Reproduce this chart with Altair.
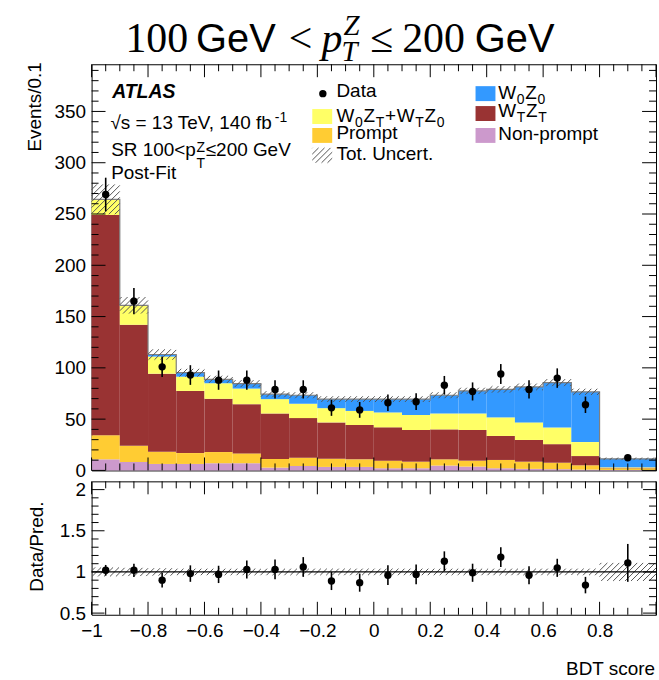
import math
import altair as alt
import numpy as np
import pandas as pd

# ---------------- data ----------------
bin_lo = [-1.0, -0.9, -0.8, -0.7, -0.6, -0.5, -0.4, -0.3, -0.2, -0.1,
          0.0, 0.1, 0.2, 0.3, 0.4, 0.5, 0.6, 0.7, 0.8]
bin_hi = [-0.9, -0.8, -0.7, -0.6, -0.5, -0.4, -0.3, -0.2, -0.1, 0.0,
          0.1, 0.2, 0.3, 0.4, 0.5, 0.6, 0.7, 0.8, 1.0]
bin_mid = [-0.95, -0.85, -0.75, -0.65, -0.55, -0.45, -0.35, -0.25, -0.15, -0.05,
           0.05, 0.15, 0.25, 0.35, 0.45, 0.55, 0.65, 0.75, 0.9]

nonprompt = [10.8, 8.2, 6.3, 6.3, 7.0, 7.0, 2.7, 4.3, 3.4, 3.4, 2.1, 2.1, 4.7, 3.7, 2.1, 1.5, 1.2, 0.8, 0.5]
prompt = [23.5, 15.8, 11.9, 10.6, 10.9, 9.6, 8.4, 8.1, 8.0, 7.4, 7.4, 6.4, 6.1, 5.8, 8.1, 7.0, 6.3, 4.2, 1.6]
wtzt = [214.7, 118.0, 76.1, 60.6, 51.9, 48.0, 44.4, 38.6, 35.4, 33.5, 32.5, 30.9, 29.2, 29.9, 23.4, 21.2, 18.1, 9.0, 0.4]
mixed = [15.0, 18.5, 16.7, 13.9, 15.2, 15.2, 14.0, 14.0, 13.9, 13.7, 14.5, 14.6, 15.5, 16.1, 18.1, 17.1, 16.2, 13.6, 0.5]
w0z0 = [0.3, 0.5, 2.0, 3.9, 3.8, 4.8, 4.8, 8.3, 8.8, 11.5, 13.0, 15.5, 17.8, 22.0, 27.3, 34.6, 43.8, 49.0, 8.3]

data_vals = [269, 165, 101, 93, 88, 88, 79, 79, 61, 59, 66, 67, 83, 77, 94, 79, 90, 64, 12.4]
data_err = [16.4, 12.8, 10.0, 9.6, 9.4, 9.4, 8.9, 8.9, 7.8, 7.7, 8.1, 8.2, 9.1, 8.8, 9.7, 8.9, 9.5, 8.0, 2.5]
unc_rel = [0.055, 0.05, 0.045, 0.04, 0.04, 0.04, 0.04, 0.04, 0.04, 0.04,
           0.04, 0.04, 0.04, 0.04, 0.04, 0.04, 0.04, 0.04, 0.11]

ratio_vals = [1.02, 1.02, 0.90, 0.98, 0.97, 1.03, 1.03, 1.06, 0.89, 0.87,
              0.96, 0.97, 1.13, 0.99, 1.18, 0.96, 1.05, 0.84, 1.11]
ratio_err = [0.065, 0.08, 0.09, 0.10, 0.105, 0.11, 0.12, 0.12, 0.11, 0.11,
             0.12, 0.12, 0.12, 0.11, 0.12, 0.11, 0.11, 0.10, 0.23]

comp_names = ["Non-prompt", "Prompt", "WTZT", "Mixed", "W0Z0"]
comp_vals = [nonprompt, prompt, wtzt, mixed, w0z0]
comp_colors = ["#cc99cc", "#ffcc33", "#993333", "#ffff66", "#3399ff"]

x_major = [-1.0, -0.8, -0.6, -0.4, -0.2, 0.0, 0.2, 0.4, 0.6, 0.8, 1.0]
x_labels = [-1.0, -0.8, -0.6, -0.4, -0.2, 0.0, 0.2, 0.4, 0.6, 0.8]
y_major_top = [0, 50, 100, 150, 200, 250, 300, 350]
y_major_rat = [0.5, 1.0, 1.5, 2.0]

# ---------------- layout constants ----------------
W = 567
H_TOP = 408
H_RAT = 134
GAP = 11
LEFT = 91
TOP = 62
Y_TOP_MAX = 396.0
R_MIN, R_MAX = 0.48, 2.1

SANS = "Liberation Sans"
SERIF = "Liberation Serif"
FS = 19

XS = alt.Scale(domain=[-1, 1], nice=False, zero=False)
YS_TOP = alt.Scale(domain=[0, Y_TOP_MAX], nice=False, zero=False)
YS_RAT = alt.Scale(domain=[R_MIN, R_MAX], nice=False, zero=False)

YAX_TOP = alt.Axis(values=y_major_top, format="d", ticks=False, tickSize=0, domain=False,
                   grid=False, labelFont=SANS, labelFontSize=FS, labelColor="black",
                   labelPadding=6)
YAX_RAT = alt.Axis(values=y_major_rat, format="~g", ticks=False, tickSize=0, domain=False,
                   grid=False, labelFont=SANS, labelFontSize=FS, labelColor="black",
                   labelPadding=6)
XAX_RAT = alt.Axis(values=x_labels, format="~g", ticks=False, tickSize=0, domain=False,
                   grid=False, labelFont=SANS, labelFontSize=FS, labelColor="black",
                   labelPadding=7, labelFlush=False)


def xt(f):
    return alt.X(f"{f}:Q", scale=XS, axis=None)


def xr(f):
    return alt.X(f"{f}:Q", scale=XS, axis=XAX_RAT, title=None)


def yt(f):
    return alt.Y(f"{f}:Q", scale=YS_TOP, axis=YAX_TOP, title=None)


def yr(f):
    return alt.Y(f"{f}:Q", scale=YS_RAT, axis=YAX_RAT, title=None)


# ---------------- hatch helper ----------------
def hatch_px(X0, X1, Yt, Yb, spacing=6.0):
    """'/' lines inside pixel rect (y down). returns list of (xa, ya, xb, yb)."""
    segs = []
    cmin, cmax = X0 + Yt, X1 + Yb
    k0, k1 = math.ceil(cmin / spacing), math.floor(cmax / spacing)
    for k in range(k0, k1 + 1):
        c = k * spacing
        a = max(X0, c - Yb)
        b = min(X1, c - Yt)
        if b - a > 0.3:
            segs.append((a, c - a, b, c - b))
    return segs


def hatch_data(rects, ymin, ymax, H):
    kx = W / 2.0
    ky = H / (ymax - ymin)
    rows = []
    for (x0, x1, y0, y1) in rects:
        X0, X1 = (x0 + 1) * kx, (x1 + 1) * kx
        Yt, Yb = H - (y1 - ymin) * ky, H - (y0 - ymin) * ky
        for (xa, ya, xb, yb) in hatch_px(X0, X1, Yt, Yb):
            rows.append({"x": xa / kx - 1, "x2": xb / kx - 1,
                         "y": ymin + (H - ya) / ky, "y2": ymin + (H - yb) / ky})
    return pd.DataFrame(rows)


# ---------------- frames ----------------
rows = []
totals = []
for i in range(len(bin_lo)):
    cum = 0.0
    for name, vals in zip(comp_names, comp_vals):
        rows.append({"lo": bin_lo[i], "hi": bin_hi[i], "y0": cum, "y1": cum + vals[i], "comp": name})
        cum += vals[i]
    totals.append(cum)
stack_df = pd.DataFrame(rows)

outline_df = pd.DataFrame({"x": bin_lo + [1.0], "y": totals + [totals[-1]]})

band_top = hatch_data([(bin_lo[i], bin_hi[i], totals[i] * (1 - unc_rel[i]), totals[i] * (1 + unc_rel[i]))
                       for i in range(len(bin_lo))], 0.0, Y_TOP_MAX, H_TOP)
band_rat = hatch_data([(bin_lo[i], bin_hi[i], 1 - unc_rel[i], 1 + unc_rel[i])
                       for i in range(len(bin_lo))], R_MIN, R_MAX, H_RAT)

data_df = pd.DataFrame({"x": bin_mid, "y": data_vals,
                        "lo": [v - e for v, e in zip(data_vals, data_err)],
                        "hi": [v + e for v, e in zip(data_vals, data_err)]})
rat_df = pd.DataFrame({"x": bin_mid, "y": ratio_vals,
                       "lo": [v - e for v, e in zip(ratio_vals, ratio_err)],
                       "hi": [v + e for v, e in zip(ratio_vals, ratio_err)]})

xt_all = [round(v, 3) for v in np.arange(-1.0, 1.0001, 0.05)]
x_minor = [v for v in xt_all if all(abs(v - m) > 1e-6 for m in x_major)]
y_minor_top = [v for v in range(10, 396, 10) if v % 50 != 0]
y_minor_rat = [round(v, 2) for v in np.arange(0.6, 2.05, 0.1) if all(abs(v - m) > 1e-6 for m in y_major_rat)]


def vticks(vals, L, H, xenc):
    df = pd.DataFrame({"v": vals})
    base = alt.Chart(df).mark_rule(color="black", strokeWidth=1)
    return [base.encode(x=xenc("v"), y=alt.value(H), y2=alt.value(H - L)),
            base.encode(x=xenc("v"), y=alt.value(0), y2=alt.value(L))]


def hticks(vals, L, yenc):
    df = pd.DataFrame({"v": vals})
    base = alt.Chart(df).mark_rule(color="black", strokeWidth=1)
    return [base.encode(y=yenc("v"), x=alt.value(0), x2=alt.value(L)),
            base.encode(y=yenc("v"), x=alt.value(W), x2=alt.value(W - L))]


# ---------------- text helpers ----------------
ARIAL = {' ': 278, '0': 556, '1': 556, '2': 556, '3': 556, '4': 556, '5': 556, '6': 556, '7': 556,
         '8': 556, '9': 556, '.': 278, ',': 278, '-': 333, '+': 584, '<': 584, '=': 584, '≤': 549,
         '/': 278, '√': 549, 'A': 667, 'B': 667, 'D': 722, 'E': 667, 'F': 611, 'G': 778, 'L': 556,
         'N': 722, 'P': 667, 'R': 722, 'S': 667, 'T': 611, 'U': 722, 'V': 667, 'W': 944, 'Z': 611,
         'a': 556, 'b': 556, 'c': 500, 'd': 556, 'e': 556, 'f': 278, 'i': 222, 'm': 833, 'n': 556,
         'o': 556, 'p': 556, 'r': 333, 's': 500, 't': 278}


def tw(s, size):
    return sum(ARIAL.get(ch, 556) for ch in s) * size / 1000.0


GAPX = 0.7


def rich(x, y, parts, size=FS, small=14, sub=5, sup=-7):
    out = []
    cx = x
    for text, kind in parts:
        if kind == "n":
            out.append((cx, y, text, size))
            cx += tw(text, size) + GAPX
        elif kind == "b":
            out.append((cx, y + sub, text, small))
            cx += tw(text, small) + GAPX
        elif kind == "p":
            out.append((cx, y + sup, text, small))
            cx += tw(text, small) + GAPX
        elif kind == "pb":
            a, b = text.split("|")
            out.append((cx, y + sup, a, small))
            out.append((cx, y + sub, b, small))
            cx += max(tw(a, small), tw(b, small)) + GAPX
    return out


def text_layer(rows, ox, oy, **mk):
    df = pd.DataFrame([{"x": r[0] - ox, "y": r[1] - oy, "t": r[2], "s": r[3]} for r in rows])
    return alt.Chart(df).mark_text(baseline="alphabetic", color="black", **mk).encode(
        x=alt.X("x:Q", scale=None, axis=None),
        y=alt.Y("y:Q", scale=None, axis=None),
        text=alt.Text("t:N"),
        size=alt.Size("s:Q", scale=None, legend=None),
    )


# ---------------- top panel ----------------
layers = []
layers.append(alt.Chart(stack_df).mark_rect().encode(
    x=xt("lo"), x2="hi:Q", y=yt("y0"), y2="y1:Q",
    color=alt.Color("comp:N", scale=alt.Scale(domain=comp_names, range=comp_colors), legend=None)))
layers.append(alt.Chart(outline_df).mark_line(interpolate="step-after", color="#808080", strokeWidth=1.2).encode(
    x=xt("x"), y=yt("y")))
layers.append(alt.Chart(band_top).mark_rule(color="#555555", strokeWidth=1).encode(
    x=xt("x"), x2="x2:Q", y=yt("y"), y2="y2:Q"))
layers += vticks(x_major, 13, H_TOP, xt) + vticks(x_minor, 7, H_TOP, xt)
layers += hticks(y_major_top, 14, yt) + hticks(y_minor_top, 7, yt)
layers.append(alt.Chart(data_df).mark_rule(color="black", strokeWidth=1.6).encode(
    x=xt("x"), y=yt("lo"), y2="hi:Q"))
layers.append(alt.Chart(data_df).mark_circle(color="black", opacity=1, size=55).encode(
    x=xt("x"), y=yt("y")))

# legend symbols (pixel positions relative to top panel)
ox, oy = LEFT, TOP
boxes = pd.DataFrame([
    {"x": 312.7 - ox, "x2": 332.7 - ox, "y": 107 - oy, "y2": 122 - oy, "c": "#ffff66"},
    {"x": 312.7 - ox, "x2": 332.7 - ox, "y": 126 - oy, "y2": 141 - oy, "c": "#ffcc33"},
    {"x": 476.7 - ox, "x2": 496.7 - ox, "y": 84 - oy, "y2": 99 - oy, "c": "#3399ff"},
    {"x": 476.7 - ox, "x2": 496.7 - ox, "y": 104 - oy, "y2": 119 - oy, "c": "#993333"},
    {"x": 476.7 - ox, "x2": 496.7 - ox, "y": 126 - oy, "y2": 141 - oy, "c": "#cc99cc"},
])
layers.append(alt.Chart(boxes).mark_rect().encode(
    x=alt.X("x:Q", scale=None, axis=None), x2="x2:Q",
    y=alt.Y("y:Q", scale=None, axis=None), y2="y2:Q",
    color=alt.Color("c:N", scale=None, legend=None)))
leg_h = pd.DataFrame([{"x": a, "y": b, "x2": c, "y2": d}
                      for (a, b, c, d) in hatch_px(312.7 - ox, 332.7 - ox, 146 - oy, 161 - oy)])
layers.append(alt.Chart(leg_h).mark_rule(color="#555555", strokeWidth=1).encode(
    x=alt.X("x:Q", scale=None, axis=None), x2="x2:Q",
    y=alt.Y("y:Q", scale=None, axis=None), y2="y2:Q"))
layers.append(alt.Chart(pd.DataFrame({"x": [323.3 - ox], "y": [91.5 - oy]})).mark_circle(
    color="black", opacity=1, size=55).encode(
    x=alt.X("x:Q", scale=None, axis=None), y=alt.Y("y:Q", scale=None, axis=None)))

sans_rows = []
sans_rows += [(110, 126.7, "√s = 13 TeV, 140 fb", FS), (275, 119.7, "-1", 14)]
sans_rows += rich(110.7, 154.3, [("SR 100<p", "n"), ("Z|T", "pb"), ("≤200 GeV", "n")], sup=-4.5, sub=12)
sans_rows += [(110.7, 177, "Post-Fit", FS)]
sans_rows += [(337, 95, "Data", FS)]
sans_rows += rich(337, 120, [("W", "n"), ("0", "b"), ("Z", "n"), ("T", "b"), ("+", "n"),
                             ("W", "n"), ("T", "b"), ("Z", "n"), ("0", "b")])
sans_rows += [(337, 136.7, "Prompt", FS), (337, 158.3, "Tot. Uncert.", FS)]
sans_rows += rich(499.5, 96.7, [("W", "n"), ("0", "b"), ("Z", "n"), ("0", "b")])
sans_rows += rich(499.5, 115, [("W", "n"), ("T", "b"), ("Z", "n"), ("T", "b")])
sans_rows += [(499.5, 138.3, "Non-prompt", FS)]
layers.append(text_layer(sans_rows, ox, oy, font=SANS, align="left"))
layers.append(text_layer([(111.7, 95.7, "ATLAS", 19.5)], ox, oy, font=SANS, align="left",
                         fontWeight="bold", fontStyle="italic"))

# title
TB = 50
layers.append(text_layer([(125, TB, "100", 42), (289, TB, "<", 42), (371, TB, "≤", 42), (403, TB, "200", 42)],
                         ox, oy, font=SERIF, align="left"))
layers.append(text_layer([(322, TB, "p", 42), (344, TB - 17, "Z", 29), (342, TB + 9, "T", 29)],
                         ox, oy, font=SERIF, align="left", fontStyle="italic"))
layers.append(text_layer([(196, TB, "GeV", 40), (476, TB, "GeV", 40)], ox, oy, font=SANS, align="left"))
# y-axis title
layers.append(text_layer([(40, 60, "Events/0.1", FS)], ox, oy, font=SANS, align="right", angle=270))
# anchor that fixes the plot origin
layers.append(alt.Chart(pd.DataFrame({"a": [0]})).mark_rect(opacity=0).encode(
    x=alt.value(-LEFT), x2=alt.value(-LEFT + 1), y=alt.value(-TOP), y2=alt.value(-TOP + 1)))

top = alt.layer(*layers).properties(width=W, height=H_TOP)

# ---------------- ratio panel ----------------
rl = []
rl.append(alt.Chart(band_rat).mark_rule(color="#555555", strokeWidth=1).encode(
    x=xr("x"), x2="x2:Q", y=yr("y"), y2="y2:Q"))
rl.append(alt.Chart(pd.DataFrame({"v": [1.0]})).mark_rule(color="black", strokeWidth=1.2).encode(
    y=yr("v"), x=alt.value(0), x2=alt.value(W)))
rl += vticks(x_major, 13, H_RAT, xr) + vticks(x_minor, 7, H_RAT, xr)
rl += hticks(y_major_rat, 13, yr) + hticks(y_minor_rat, 7, yr)
rl.append(alt.Chart(rat_df).mark_rule(color="black", strokeWidth=1.6).encode(
    x=xr("x"), y=yr("lo"), y2="hi:Q"))
rl.append(alt.Chart(rat_df).mark_circle(color="black", opacity=1, size=55).encode(
    x=xr("x"), y=yr("y")))
RO = TOP + H_TOP + GAP
rl.append(text_layer([(42, 546.5, "Data/Pred.", FS)], LEFT, RO, font=SANS, align="center", angle=270))
rl.append(text_layer([(657, 676, "BDT score", FS)], LEFT, RO, font=SANS, align="right"))
rl.append(alt.Chart(pd.DataFrame({"a": [0]})).mark_rect(opacity=0).encode(
    x=alt.value(0), x2=alt.value(1), y=alt.value(680 - RO - 1), y2=alt.value(680 - RO)))

ratio = alt.layer(*rl).properties(width=W, height=H_RAT)

chart = alt.vconcat(top, ratio, spacing=GAP, bounds="flush").properties(
    padding=0, background="white"
).configure_view(stroke="black", strokeWidth=1).configure_text(font=SANS)

chart.save("out.html", embed_options={"renderer": "svg", "actions": False})
